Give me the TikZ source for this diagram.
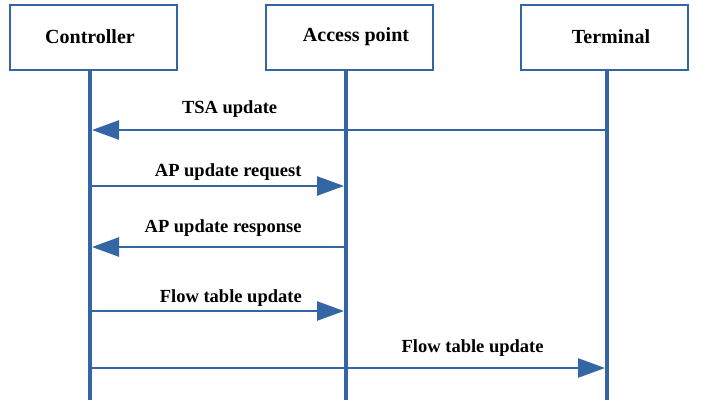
\documentclass[tikz,border=0pt]{standalone}
\usepackage{fontspec}
\setmainfont{Liberation Serif}
\usetikzlibrary{arrows.meta}
\definecolor{lineblue}{HTML}{3465A4}

\begin{document}
\begin{tikzpicture}[x=1pt, y=-1pt,
    box/.style={draw=lineblue, line width=2pt, minimum width=167pt, minimum height=65pt},
    title/.style={font=\fontsize{20}{24}\selectfont\bfseries},
    lifeline/.style={draw=lineblue, line width=4pt},
    msg/.style={draw=lineblue, line width=2.5pt, shorten >=2pt,
        -{Triangle[length=27pt, width=19pt]}},
    lbl/.style={anchor=base, inner sep=0pt, font=\fontsize{18.5}{22}\selectfont\bfseries}]
        \useasboundingbox (0,0) rectangle (705,400);

        \node[box, label={[title, xshift=-3.5pt, yshift=1pt]center:Controller}] (ctrl) at (93.5, 37.5) {};
        \node[box, label={[title, xshift=6.5pt, yshift=1pt]center:Access point}] (ap) at (349.5, 37.5) {};
        \node[box, label={[title, xshift=6.5pt, yshift=1pt]center:Terminal}] (term) at (604.5, 37.5) {};

        \coordinate (ctrlend) at (90, 400);
        \coordinate (apend) at (346, 400);
        \coordinate (termend) at (607, 400);

        \draw[lifeline] (ctrl.south -| ctrlend) -- (ctrlend);
        \draw[lifeline] (ap.south -| apend) -- (apend);
        \draw[lifeline] (term.south -| termend) -- (termend);

        \draw[msg] (termend |- 0,130) -- (ctrlend |- 0,130)
            node[lbl, pos=.73, yshift=17pt]{TSA update};
        \draw[msg] (ctrlend |- 0,186) -- (apend |- 0,186)
            node[lbl, pos=.54, yshift=10pt]{AP update request};
        \draw[msg] (apend |- 0,247) -- (ctrlend |- 0,247)
            node[lbl, pos=.48, yshift=15pt]{AP update response};
        \draw[msg] (ctrlend |- 0,311) -- (apend |- 0,311)
            node[lbl, pos=.55, yshift=9pt]{Flow table update};
        \draw[msg] (ctrlend |- 0,368) -- (termend |- 0,368)
            node[lbl, pos=.74, yshift=16pt]{Flow table update};
    \end{tikzpicture}
\end{document}
